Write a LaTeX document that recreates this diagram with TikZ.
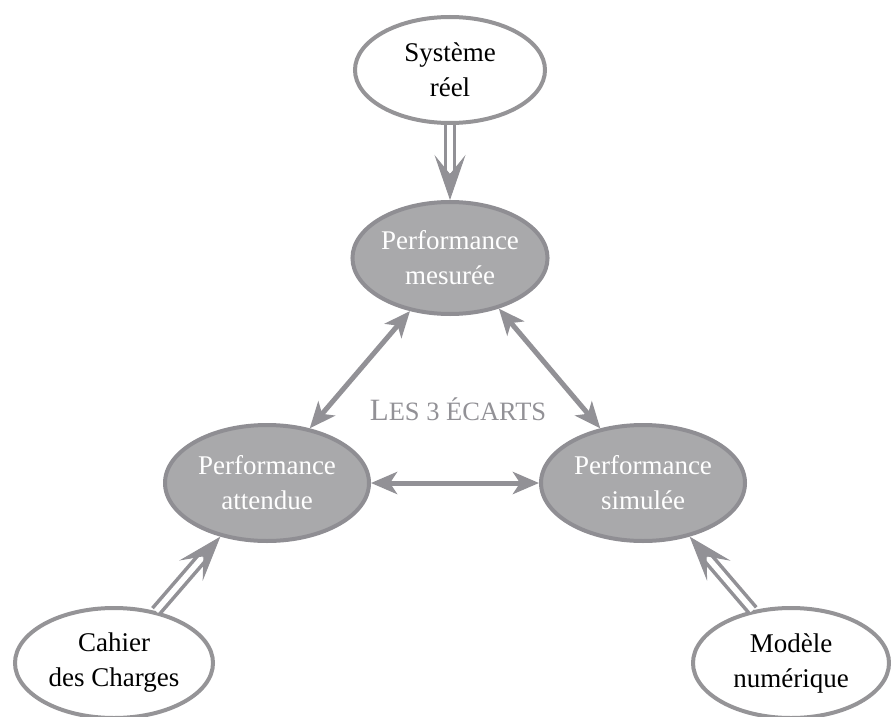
\documentclass[tikz,border=0pt]{standalone}
\usepackage{fontspec}
\setmainfont{Liberation Serif}
\usetikzlibrary{shapes.geometric,arrows.meta,calc}
\definecolor{rim}{HTML}{959497}
\definecolor{perffill}{HTML}{A9A9AB}
\definecolor{perfrim}{HTML}{8F8E93}
\definecolor{linkgray}{HTML}{929196}
\begin{document}
\begin{tikzpicture}[x=1pt,y=-1pt,
  source/.style={ellipse, draw=rim, line width=4pt, fill=white, inner sep=0pt,
    align=center, font=\fontsize{27}{35}\selectfont},
  perf/.style={source, draw=perfrim, fill=perffill, text=white},
  gap/.style={draw=linkgray, line width=5pt,
    {Stealth[length=26pt,width=22pt,inset=7pt]}-{Stealth[length=26pt,width=22pt,inset=7pt]}},
  feedshaft/.style={draw=linkgray, line width=3.6pt, double=white, double distance=5.5pt},
  feedhead/.style={draw=linkgray, fill=linkgray, line width=1pt,
    -{Stealth[length=45pt,width=31pt,inset=19pt]}}
]
\useasboundingbox (0,0) rectangle (891,717);

% sources
\node[source, minimum width=190pt, minimum height=106pt] (sys) at (450,70) {Système\\réel};
\node[source, minimum width=198pt, minimum height=110pt] (cah) at (114,663) {Cahier\\des Charges};
\node[source, minimum width=196pt, minimum height=110pt] (mod) at (791,663) {Modèle\\numérique};

% performances
\node[perf, minimum width=190pt, minimum height=112pt] (mes) at (450,258) {Performance\\mesurée};
\node[perf, minimum width=204pt, minimum height=116pt] (att) at (267,483) {Performance\\attendue};
\node[perf, minimum width=204pt, minimum height=116pt] (sim) at (643,483) {Performance\\simulée};

% the three gaps
\draw[gap] (att.52) -- (mes.233);
\draw[gap] (mes.314) -- (sim.128);
\draw[gap] (att.east) -- (sim.west);

\node[text=linkgray, anchor=base] (gaps) at (458,420)
  {\fontsize{31}{31}\selectfont L\fontsize{26.5}{31}\selectfont ES 3 ÉCARTS};

% feeds: double shafts then heads
\coordinate (s1) at (sys.south);
\coordinate (e1) at (mes.north);
\coordinate (s2) at (cah.51);
\coordinate (e2) at (att.229);
\coordinate (s3) at (mod.126);
\coordinate (e3) at (sim.311);
\foreach \s/\e in {s1/e1, s2/e2, s3/e3} {
  \draw[feedshaft] (\s) -- ($(\e)!25pt!(\s)$);
  \draw[feedhead] ($(\e)!27pt!(\s)$) -- (\e);
}
\end{tikzpicture}
\end{document}
